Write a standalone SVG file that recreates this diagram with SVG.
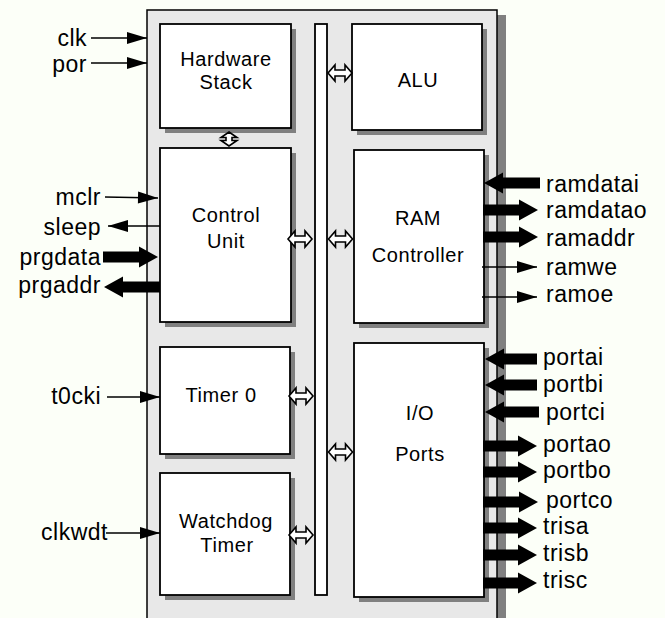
<svg xmlns="http://www.w3.org/2000/svg" width="665" height="618" viewBox="0 0 665 618">
<style>
.lbl{font-family:"Liberation Sans",Arial,sans-serif;font-size:23px;fill:#000;letter-spacing:0.5px}
.in{font-family:"Liberation Sans",Arial,sans-serif;font-size:20px;fill:#000;text-anchor:middle;letter-spacing:0.6px}
.box{fill:#fff;stroke:#000;stroke-width:1.8}
.sh{fill:#808080}
.thin{stroke:#000;stroke-width:1.5;fill:none}
.thick{stroke:#000;stroke-width:11;fill:none}
.dbl{fill:#fff;stroke:#000;stroke-width:1.6;stroke-linejoin:miter}
.end{text-anchor:end}
</style>
<defs>
<marker id="ah" markerUnits="userSpaceOnUse" viewBox="-20 -6 20 12" refX="0" refY="0" markerWidth="20" markerHeight="12" orient="auto" overflow="visible">
<path d="M0,0 L-20,-6 L-20,6 Z" fill="#000"/>
</marker>
<marker id="ahb" markerUnits="userSpaceOnUse" viewBox="0 -10.5 19 21" refX="0" refY="0" markerWidth="19" markerHeight="21" orient="auto" overflow="visible">
<path d="M0,-10.5 L19,0 L0,10.5 Z" fill="#000"/>
</marker>
<path id="dbl" d="M-12,0 L-5,-8 L-5,-3 L5,-3 L5,-8 L12,0 L5,8 L5,3 L-5,3 L-5,8 Z"/>
<path id="dblv" d="M0,-7 L8,-1.5 L3,-1.5 L3,1.5 L8,1.5 L0,7 L-8,1.5 L-3,1.5 L-3,-1.5 L-8,-1.5 Z"/>
</defs>
<rect width="665" height="618" fill="#fcfff8"/>
<g id="chip">
<rect x="155" y="15" width="351" height="620" class="sh"/>
<rect x="147" y="10" width="350" height="620" fill="#e8e8e8" stroke="#000" stroke-width="1.5"/>
</g>
<g id="bus">
<rect x="315" y="24" width="12" height="571" class="box" stroke-width="1.5"/>
</g>
<g id="hwstack">
<rect x="165" y="29" width="131" height="104" class="sh"/>
<rect x="160" y="24" width="131" height="104" class="box"/>
<text x="226" y="66" class="in">Hardware</text>
<text x="226" y="89" class="in">Stack</text>
</g>
<g id="control">
<rect x="165" y="153" width="131" height="174" class="sh"/>
<rect x="160" y="148" width="131" height="174" class="box"/>
<text x="226" y="222" class="in">Control</text>
<text x="226" y="248" class="in">Unit</text>
</g>
<g id="timer0">
<rect x="165" y="352" width="130" height="107" class="sh"/>
<rect x="160" y="347" width="130" height="107" class="box"/>
<text x="221" y="402" class="in">Timer 0</text>
</g>
<g id="watchdog">
<rect x="165" y="478" width="130" height="122" class="sh"/>
<rect x="160" y="473" width="130" height="122" class="box"/>
<text x="226" y="528" class="in">Watchdog</text>
<text x="227" y="552" class="in">Timer</text>
</g>
<g id="alu">
<rect x="357" y="29" width="130" height="106" class="sh"/>
<rect x="352" y="24" width="130" height="106" class="box"/>
<text x="418" y="87" class="in">ALU</text>
</g>
<g id="ram">
<rect x="359" y="155" width="130" height="173" class="sh"/>
<rect x="354" y="150" width="130" height="173" class="box"/>
<text x="418" y="225" class="in">RAM</text>
<text x="418" y="262" class="in">Controller</text>
</g>
<g id="io">
<rect x="359" y="348" width="130" height="254" class="sh"/>
<rect x="354" y="343" width="130" height="254" class="box"/>
<text x="420" y="420" class="in">I/O</text>
<text x="420" y="461" class="in">Ports</text>
</g>
<g id="connectors">
<use href="#dblv" x="229" y="139" class="dbl" stroke-width="2"/>
<use href="#dbl" x="340" y="73" class="dbl"/>
<use href="#dbl" x="300" y="239" class="dbl"/>
<use href="#dbl" x="340.5" y="239" class="dbl"/>
<use href="#dbl" x="301" y="396" class="dbl"/>
<use href="#dbl" x="340.5" y="452" class="dbl"/>
<use href="#dbl" x="301" y="535" class="dbl"/>
<line x1="91" y1="38" x2="147" y2="38" class="thin" marker-end="url(#ah)"/>
<line x1="91" y1="63" x2="147" y2="63" class="thin" marker-end="url(#ah)"/>
<line x1="105" y1="197" x2="158" y2="198" class="thin" marker-end="url(#ah)"/>
<line x1="160" y1="226" x2="108" y2="226" class="thin" marker-end="url(#ah)"/>
<line x1="103" y1="257" x2="139" y2="257" class="thick" marker-end="url(#ahb)"/>
<line x1="160" y1="287" x2="123" y2="287" class="thick" marker-end="url(#ahb)"/>
<line x1="107" y1="397" x2="160" y2="397" class="thin" marker-end="url(#ah)"/>
<line x1="106" y1="533" x2="160" y2="533" class="thin" marker-end="url(#ah)"/>
<line x1="540" y1="183" x2="503" y2="183" class="thick" marker-end="url(#ahb)"/>
<line x1="483" y1="210" x2="519" y2="210" class="thick" marker-end="url(#ahb)"/>
<line x1="483" y1="237" x2="519" y2="237" class="thick" marker-end="url(#ahb)"/>
<line x1="482" y1="267" x2="537" y2="267" class="thin" marker-end="url(#ah)"/>
<line x1="482" y1="297" x2="537" y2="297" class="thin" marker-end="url(#ah)"/>
<line x1="537" y1="359" x2="504" y2="359" class="thick" marker-end="url(#ahb)"/>
<line x1="537" y1="385" x2="504" y2="385" class="thick" marker-end="url(#ahb)"/>
<line x1="539" y1="412" x2="504" y2="412" class="thick" marker-end="url(#ahb)"/>
<line x1="483" y1="446" x2="518" y2="446" class="thick" marker-end="url(#ahb)"/>
<line x1="483" y1="472" x2="518" y2="472" class="thick" marker-end="url(#ahb)"/>
<line x1="483" y1="502" x2="519" y2="502" class="thick" marker-end="url(#ahb)"/>
<line x1="483" y1="528" x2="518" y2="528" class="thick" marker-end="url(#ahb)"/>
<line x1="483" y1="555" x2="518" y2="555" class="thick" marker-end="url(#ahb)"/>
<line x1="483" y1="583" x2="518" y2="583" class="thick" marker-end="url(#ahb)"/>
</g>
<g id="labels">
<text x="87" y="46" class="lbl end">clk</text>
<text x="87" y="72" class="lbl end">por</text>
<text x="101" y="205" class="lbl end">mclr</text>
<text x="101" y="235" class="lbl end">sleep</text>
<text x="101" y="265" class="lbl end">prgdata</text>
<text x="101" y="293" class="lbl end">prgaddr</text>
<text x="101" y="404" class="lbl end">t0cki</text>
<text x="108" y="540" class="lbl end">clkwdt</text>
<text x="546" y="192" class="lbl">ramdatai</text>
<text x="546" y="218" class="lbl">ramdatao</text>
<text x="546" y="246" class="lbl">ramaddr</text>
<text x="546" y="275" class="lbl">ramwe</text>
<text x="546" y="302" class="lbl">ramoe</text>
<text x="543" y="365" class="lbl">portai</text>
<text x="543" y="392" class="lbl">portbi</text>
<text x="546" y="420" class="lbl">portci</text>
<text x="543" y="452" class="lbl">portao</text>
<text x="543" y="478" class="lbl">portbo</text>
<text x="546" y="508" class="lbl">portco</text>
<text x="543" y="534" class="lbl">trisa</text>
<text x="543" y="561" class="lbl">trisb</text>
<text x="543" y="588" class="lbl">trisc</text>
</g>
</svg>
